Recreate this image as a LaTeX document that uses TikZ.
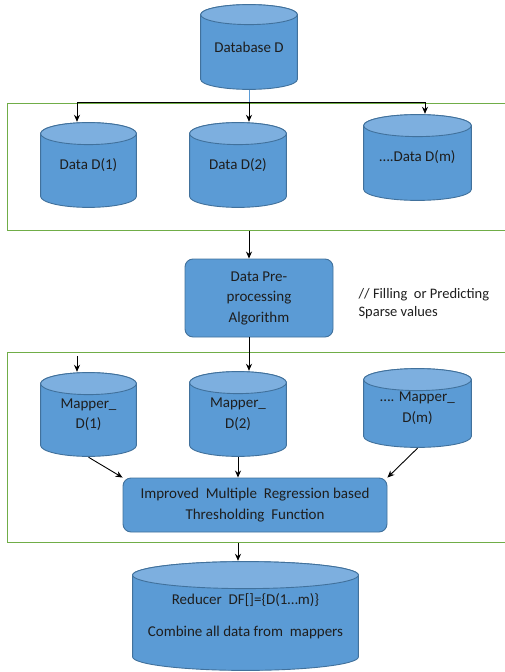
\documentclass[tikz,border=0pt]{standalone}
\usepackage{fontspec}
\setmainfont{Carlito}
\usetikzlibrary{calc,arrows.meta}

\definecolor{drumbody}{HTML}{5B9BD5}
\definecolor{drumtop}{HTML}{7DAFDF}
\definecolor{edgeblue}{HTML}{41719C}
\definecolor{groupgreen}{HTML}{70AD47}
\definecolor{ink}{HTML}{1E1E1E}

\newcommand\labelfont{\fontsize{15}{20.5}\selectfont}

% Database drum drawn inside a rectangular node: body, then the top end
\newcommand\drumshape{%
  \draw[edgeblue, line width=0.9pt, fill=drumbody]
    let \p1=(path picture bounding box.north west),
        \p2=(path picture bounding box.south east),
        \n1={(\x2-\x1)/2-0.6pt}, \n2={\drumry*1pt} in
    (\x1+0.6pt,\y1-\n2-0.6pt) -- (\x1+0.6pt,\y2+\n2+0.6pt)
    arc[start angle=180, end angle=360, x radius=\n1, y radius=\n2]
    -- (\x2-0.6pt,\y1-\n2-0.6pt)
    arc[start angle=0, end angle=180, x radius=\n1, y radius=\n2] -- cycle;
  \draw[edgeblue, line width=0.9pt, fill=drumtop]
    let \p1=(path picture bounding box.north west),
        \p2=(path picture bounding box.south east),
        \n1={(\x2-\x1)/2-0.6pt}, \n2={\drumry*1pt} in
    (\x1+0.6pt+\n1,\y1-\n2-0.6pt) ellipse[x radius=\n1, y radius=\n2];
}

\tikzset{
  drum ry/.store in=\drumry, drum ry=11,
  drum/.style={rectangle, inner sep=0pt, align=center, text=ink,
    font=\labelfont, path picture={\drumshape}},
  procbox/.style={rectangle, rounded corners=8pt, fill=drumbody, draw=edgeblue,
    line width=0.9pt, align=center, text=ink, font=\labelfont, inner sep=0pt},
  groupbox/.style={rectangle, draw=groupgreen, line width=1.2pt, inner sep=0pt,
    anchor=north west},
  flow/.style={draw=black, line width=0.9pt, -{Stealth[length=7pt,width=6pt]}},
  note/.style={anchor=west, align=left, text=ink,
    font=\fontsize{14.5}{18}\selectfont},
}

\begin{document}
\begin{tikzpicture}[x=1pt, y=1pt]
\useasboundingbox (0,0) rectangle (505,-672);

% source database
\node[drum, drum ry=10, minimum width=98, minimum height=86] (db) at (249,-47) {Database D};

% partition group
\node[groupbox, minimum width=506, minimum height=127] (g1) at (7,-103) {};
\node[drum, minimum width=97, minimum height=86] (d1) at (88.5,-165) {Data D(1)};
\node[drum, minimum width=98, minimum height=86] (d2) at (238,-165) {Data D(2)};
\node[drum, minimum width=109, minimum height=87] (dm) at (417.5,-157.5) {….Data D(m)};

% preprocessing
\node[procbox, minimum width=148, minimum height=78] (pre) at (259,-298)
  {Data Pre-\\processing\\Algorithm};
\node[note] (cmt) at (355,-304) {// Filling\ \ or Predicting\\Sparse values};

% mapper group
\node[groupbox, minimum width=506, minimum height=190] (g2) at (7,-352) {};
\node[drum, minimum width=97, minimum height=85] (m1) at (88.5,-414.5) {Mapper\_\\D(1)};
\node[drum, minimum width=98, minimum height=86] (m2) at (238,-414) {Mapper\_\\D(2)};
\node[drum, minimum width=109, minimum height=80] (mm) at (417.5,-408) {…. Mapper\_\\D(m)};
\node[procbox, minimum width=264, minimum height=54] (thr) at (255,-505)
  {Improved\ \ Multiple\ \ Regression based\\Thresholding\ \ Function};

% reducer
\node[drum, drum ry=13.5, minimum width=227, minimum height=110] (red) at (245.5,-616)
  {Reducer\ \ DF[]=\{D(1…m)\}\\[11.5pt]Combine all data from\ \ mappers};

% connectors
\coordinate (spine) at (249,0);
\coordinate (busL) at (77,-102);
\coordinate (busR) at (425,-102);
\coordinate (m1in) at (77,-356);

\draw[drumbody, line width=0.9pt] (db.south) -- (spine |- busL);
\draw[black, line width=0.9pt] (busL) -- (busR);
\draw[flow] (busL) -- (busL |- d1.north);
\draw[flow] (spine |- busL) -- (spine |- d2.north);
\draw[flow] (busR) -- (busR |- dm.north);

\draw[flow] (spine |- g1.south) -- (spine |- pre.north);
\draw[flow] (spine |- pre.south) -- (spine |- m2.north);
\draw[flow] (m1in) -- (m1in |- m1.north);

\draw[flow] (m1.south) -- (thr.north west);
\draw[flow] (m2.south) -- (m2.south |- thr.north);
\draw[flow] (mm.south) -- (thr.north east);

\draw[flow] (m2.south |- g2.south) -- (m2.south |- red.north);
\end{tikzpicture}
\end{document}
